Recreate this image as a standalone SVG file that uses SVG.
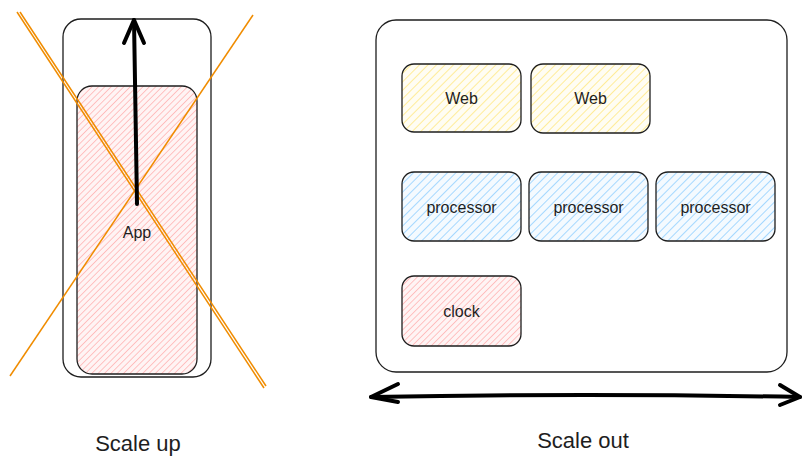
<svg xmlns="http://www.w3.org/2000/svg" width="810" height="470" viewBox="0 0 810 470">
<style>
.box{stroke:#1e1e1e;stroke-width:1.3;}
.lbl{font-family:"Liberation Sans",Arial,sans-serif;font-size:16px;fill:#1e1e1e;text-anchor:middle;dominant-baseline:central;}
.big{font-size:22px;}
.x{stroke:#f08c00;stroke-width:1.5;fill:none;}
.conn{stroke:#000;stroke-width:4;fill:none;stroke-linecap:round;stroke-linejoin:round;}
</style>
<defs>
<pattern id="hy" width="6" height="6" patternUnits="userSpaceOnUse" patternTransform="rotate(45)">
<rect width="6" height="6" fill="#fffdf3"/><line x1="0" y1="0" x2="0" y2="6" stroke="#ffec99" stroke-width="2"/></pattern>
<pattern id="hb" width="6" height="6" patternUnits="userSpaceOnUse" patternTransform="rotate(45)">
<rect width="6" height="6" fill="#f4faff"/><line x1="0" y1="0" x2="0" y2="6" stroke="#a5d8ff" stroke-width="2"/></pattern>
<pattern id="hp" width="4.5" height="4.5" patternUnits="userSpaceOnUse" patternTransform="rotate(45)">
<rect width="4.5" height="4.5" fill="#fff4f4"/><line x1="0" y1="0" x2="0" y2="4.5" stroke="#ffbcbc" stroke-width="1.8"/></pattern>
</defs>
<rect width="810" height="470" fill="#fff"/>

<g id="scale-up-host">
<rect class="box" x="63" y="19" width="148" height="358" rx="18" fill="none"/>
</g>
<g id="app">
<rect class="box" x="77" y="86" width="120" height="288" rx="15" fill="url(#hp)"/>
<text class="lbl" x="137" y="232" font-size="15">App</text>
</g>

<g id="scale-out-host">
<rect class="box" x="376" y="20" width="411" height="352" rx="20" fill="none"/>
</g>
<g id="web1"><rect class="box" x="402" y="64" width="119" height="68" rx="12" fill="url(#hy)"/><text class="lbl" x="461.5" y="98">Web</text></g>
<g id="web2"><rect class="box" x="531" y="64" width="119" height="69" rx="12" fill="url(#hy)"/><text class="lbl" x="590.5" y="98">Web</text></g>
<g id="proc1"><rect class="box" x="402" y="172" width="119" height="69" rx="12" fill="url(#hb)"/><text class="lbl" x="461.5" y="207">processor</text></g>
<g id="proc2"><rect class="box" x="529" y="172" width="119" height="69" rx="12" fill="url(#hb)"/><text class="lbl" x="588.5" y="207">processor</text></g>
<g id="proc3"><rect class="box" x="656" y="172" width="119" height="69" rx="12" fill="url(#hb)"/><text class="lbl" x="715.5" y="207">processor</text></g>
<g id="clock"><rect class="box" x="402" y="276" width="119" height="70" rx="12" fill="url(#hp)"/><text class="lbl" x="461.5" y="311">clock</text></g>

<g id="cross">
<line class="x" x1="17" y1="12" x2="264" y2="388"/>
<line class="x" x1="20" y1="12" x2="266" y2="386"/>
<line class="x" x1="253" y1="15" x2="10" y2="376"/>
</g>

<g id="connectors">
<path class="conn" d="M137 204 L134 20"/>
<path class="conn" d="M124 43 L134 20 L144 43"/>
<path class="conn" d="M371 397 Q585 393 800 397"/>
<path class="conn" d="M398 384 L371 397 L398 402"/>
<path class="conn" d="M780 385 L800 397 L780 405"/>
</g>

<text class="lbl big" x="138" y="443">Scale up</text>
<text class="lbl big" x="583" y="440">Scale out</text>
</svg>
